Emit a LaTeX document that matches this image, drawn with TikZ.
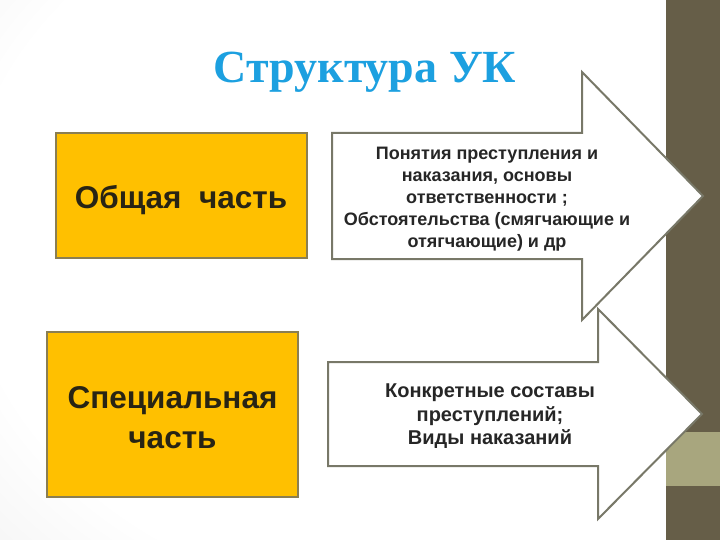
\documentclass[tikz,border=0pt]{standalone}
\usepackage{fontspec}
\setmainfont{Liberation Sans}
\newfontfamily\titlefont{Liberation Serif}
\definecolor{titleblue}{RGB}{28,160,224}
\definecolor{boxfill}{RGB}{255,192,0}
\definecolor{boxborder}{RGB}{138,126,82}
\definecolor{arrowborder}{RGB}{120,120,104}
\definecolor{stripdark}{RGB}{102,94,72}
\definecolor{striplight}{RGB}{168,166,126}
\definecolor{boxtext}{RGB}{40,36,20}
\definecolor{arrowtext}{RGB}{38,38,38}
\pgfdeclareradialshading{slidebg}{\pgfpoint{10bp}{5bp}}{color(0bp)=(white); color(34bp)=(white); color(74bp)=(black!17); color(100bp)=(black!17)}
\tikzset{
  partbox/.style={draw=boxborder, fill=boxfill, line width=2pt, inner sep=0pt},
  bigarrow/.style={draw=arrowborder, fill=white, line width=2pt, line join=miter},
  boxlabel/.style={font=\bfseries\fontsize{31.5}{40}\selectfont, text=boxtext, inner sep=0pt, align=center},
  arrowlabel/.style={font=\bfseries\fontsize{18}{22}\selectfont, text=arrowtext, inner sep=0pt, align=center},
}
\begin{document}
\begin{tikzpicture}[x=1pt,y=-1pt]
\useasboundingbox (0,0) rectangle (720,540);
% background
\shade[shading=slidebg] (0,0) rectangle (666,540);
\fill[stripdark] (666,0) rectangle (720,540);
\fill[striplight] (666,432) rectangle (720,486);
% title
\node[font=\titlefont\bfseries\fontsize{46}{50}\selectfont, text=titleblue, anchor=base, inner sep=0pt] (title) at (365,83) {Структура УК};
% boxes
\node[partbox, minimum width=251pt, minimum height=125pt] (gen) at (181.5,195.5) {};
\node[boxlabel, anchor=base] (gentext) at (181,208) {Общая\ \ часть};
\node[partbox, minimum width=251pt, minimum height=165pt] (spec) at (172.5,414.5) {};
\node[boxlabel] (spectext) at (172.5,417.5) {Специальная\\часть};
% arrows
\draw[bigarrow] (332,133) -- (582,133) -- (582,72) -- (703,196) -- (582,320) -- (582,259) -- (332,259) -- cycle;
\node[arrowlabel] (gentext2) at (487,199.5) {Понятия преступления и\\наказания, основы\\ответственности ;\\Обстоятельства (смягчающие и\\отягчающие) и др};
\draw[bigarrow] (328,362) -- (598,362) -- (598,309) -- (702,414) -- (598,519) -- (598,466) -- (328,466) -- cycle;
\node[arrowlabel, font=\bfseries\fontsize{20}{23.5}\selectfont] (spectext2) at (490,416.5) {Конкретные составы\\преступлений;\\Виды наказаний};
\end{tikzpicture}
\end{document}
